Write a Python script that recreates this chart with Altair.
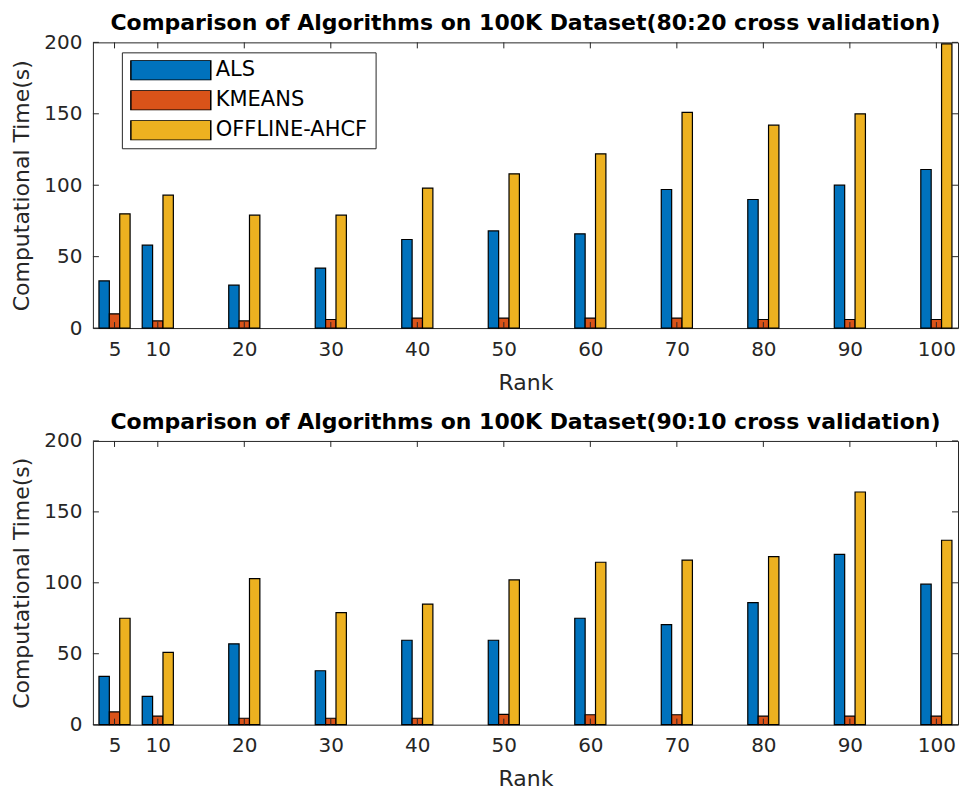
import altair as alt
import pandas as pd

ranks = [5, 10, 20, 30, 40, 50, 60, 70, 80, 90, 100]
algos = ["ALS", "KMEANS", "OFFLINE-AHCF"]
colors = ["#0072BD", "#D95319", "#EDB120"]

# Panel 1: 80:20 cross validation
als_8020 = [33, 58, 30, 42, 62, 68, 66, 97, 90, 100, 111]
kmeans_8020 = [10, 5, 5, 6, 7, 7, 7, 7, 6, 6, 6]
ahcf_8020 = [80, 93, 79, 79, 98, 108, 122, 151, 142, 150, 199]

# Panel 2: 90:10 cross validation
als_9010 = [34, 20, 57, 38, 59.5, 59.5, 75, 70.5, 86, 120, 99]
kmeans_9010 = [9, 6, 4.5, 4.5, 4.5, 7.3, 7, 7, 6, 6, 6]
ahcf_9010 = [75, 51, 103, 79, 85, 102, 114.5, 116, 118.5, 164, 130]

titles = [
    "Comparison of Algorithms on 100K Dataset(80:20 cross validation)",
    "Comparison of Algorithms on 100K Dataset(90:10 cross validation)",
]
y_ticks = [0, 50, 100, 150, 200]

W = 866
FONT = "DejaVu Sans"
AX = "#262626"
BAR_W = 1.2


def long_df(series):
    rows = []
    for gi, (name, vals) in enumerate(zip(algos, series)):
        for r, v in zip(ranks, vals):
            rows.append({"rank": r, "algo": name, "gi": gi, "value": v})
    return pd.DataFrame(rows)


xscale = alt.Scale(domain=[2.5, 102.5], nice=False, zero=False)
yscale = alt.Scale(domain=[0, 200], nice=False)


def panel(series, title, show_legend, h):
    df = long_df(series)
    if show_legend:
        legend = alt.Legend(
            title=None,
            orient="none",
            legendX=29,
            legendY=10,
            symbolType="M-1,-0.25L1,-0.25L1,0.25L-1,0.25Z",
            symbolSize=6400,
            clipHeight=20,
            rowPadding=9,
            symbolStrokeColor="black",
            symbolStrokeWidth=1.5,
            symbolOpacity=1,
            labelFontSize=21,
            labelFont=FONT,
            labelColor="black",
            labelOffset=4,
            padding=8,
            strokeColor=AX,
            fillColor="white",
        )
    else:
        legend = None

    bars = (
        alt.Chart(df)
        .transform_calculate(
            xa=f"datum.rank + (datum.gi - 1) * {BAR_W} - {BAR_W / 2}",
            xb=f"datum.rank + (datum.gi - 1) * {BAR_W} + {BAR_W / 2}",
        )
        .mark_rect(stroke="black", strokeWidth=1.2)
        .encode(
            x=alt.X(
                "xa:Q",
                scale=xscale,
                axis=alt.Axis(
                    values=ranks,
                    ticks=False,
                    grid=False,
                    domain=False,
                    title="Rank",
                    labelFontSize=20,
                    titleFontSize=22,
                    labelPadding=11,
                    titlePadding=13,
                    labelFont=FONT,
                    titleFont=FONT,
                    labelColor=AX,
                    titleColor=AX,
                    titleFontWeight="normal",
                ),
            ),
            x2="xb:Q",
            y=alt.Y(
                "value:Q",
                scale=yscale,
                axis=alt.Axis(
                    values=y_ticks,
                    ticks=False,
                    grid=False,
                    domain=False,
                    title="Computational Time(s)",
                    labelFontSize=20,
                    titleFontSize=22,
                    labelPadding=11,
                    titlePadding=10,
                    labelFont=FONT,
                    titleFont=FONT,
                    labelColor=AX,
                    titleColor=AX,
                    titleFontWeight="normal",
                ),
            ),
            y2=alt.datum(0),
            fill=alt.Fill(
                "algo:N",
                scale=alt.Scale(domain=algos, range=colors),
                legend=legend,
            ),
        )
    )

    xt = pd.DataFrame({"rank": ranks})
    yt = pd.DataFrame({"t": y_ticks})
    tb = alt.Chart(xt).mark_rule(color=AX, strokeWidth=1)
    tl = alt.Chart(yt).mark_rule(color=AX, strokeWidth=1)
    ticks = [
        tb.encode(x=alt.X("rank:Q", scale=xscale), y=alt.value(0), y2=alt.value(6)),
        tb.encode(x=alt.X("rank:Q", scale=xscale), y=alt.value(h), y2=alt.value(h - 6)),
        tl.encode(y=alt.Y("t:Q", scale=yscale), x=alt.value(0), x2=alt.value(6)),
        tl.encode(y=alt.Y("t:Q", scale=yscale), x=alt.value(W), x2=alt.value(W - 6)),
    ]

    return alt.layer(bars, *ticks).properties(
        width=W,
        height=h,
        title=alt.TitleParams(
            title,
            fontSize=22,
            font=FONT,
            fontWeight="bold",
            color="black",
            anchor="middle",
            offset=-3,
        ),
    )


top = panel([als_8020, kmeans_8020, ahcf_8020], titles[0], True, 286)
bottom = panel([als_9010, kmeans_9010, ahcf_9010], titles[1], False, 284)

chart = (
    alt.vconcat(top, bottom, spacing=16)
    .properties(padding={"left": 10, "top": 11, "right": 0, "bottom": 0}, background="white")
    .configure_view(stroke=AX, strokeWidth=1)
)

chart.save("out.html", embed_options={"renderer": "svg", "actions": False})
